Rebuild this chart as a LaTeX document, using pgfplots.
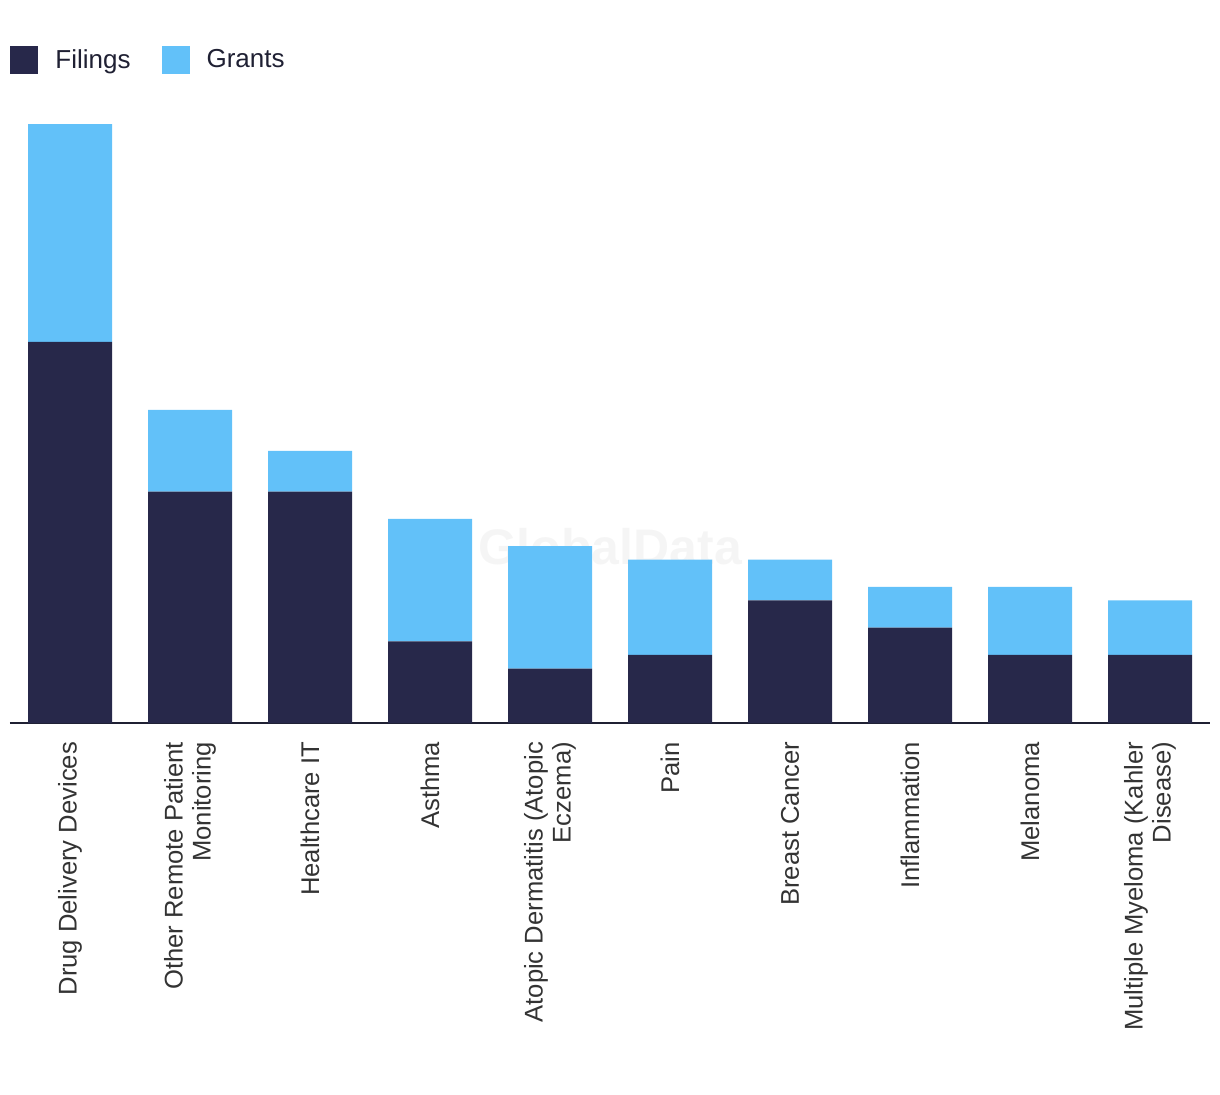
\documentclass[border=0pt]{standalone}
\usepackage{pgfplots}
\pgfplotsset{compat=1.18}
\usepackage{fontspec}
\setmainfont{Liberation Sans}
\definecolor{navy}{HTML}{27284A}
\definecolor{sky}{HTML}{62C1F9}
\definecolor{lbl}{HTML}{333333}
\definecolor{axl}{HTML}{1F2033}
\begin{document}
\begin{tikzpicture}
\path[use as bounding box] (-5pt,-185.5pt) rectangle (605pt,361.5pt);
\begin{axis}[
  scale only axis,
  width=600pt, height=313.1pt,
  ybar stacked, bar width=42pt,
  xmin=-0.5, xmax=9.5, ymin=0, ymax=46,
  enlargelimits=false,
  axis x line*=bottom, axis y line=none,
  x axis line style={-, line width=1pt, color=axl},
  xtick={0,...,9},
  xticklabels={Drug Delivery Devices,{Other Remote Patient\\Monitoring},Healthcare IT,Asthma,{Atopic Dermatitis (Atopic\\Eczema)},Pain,Breast Cancer,Inflammation,Melanoma,{Multiple Myeloma (Kahler\\Disease)}},
  xtick style={draw=none}, major tick length=0pt,
  xticklabel style={rotate=90, anchor=east, align=right, font=\fontsize{12.8}{14}\selectfont, text=lbl, xshift=-6pt},
  legend style={at={(0,1)}, anchor=north west, yshift=26pt, draw=none, fill=none, inner sep=0pt,
    font=\fontsize{13}{14}\selectfont, text=axl,
    /tikz/every even column/.append style={column sep=13.5pt}},
  legend columns=2,
  legend image code/.code={\fill[#1,draw=none] (0pt,-7pt) rectangle (14pt,7pt);\path[draw=none,fill=none] (0pt,0pt) rectangle (20.5pt,0pt);},
]
\addplot[fill=navy, draw=none] coordinates {(0,28) (1,17) (2,17) (3,6) (4,4) (5,5) (6,9) (7,7) (8,5) (9,5)};
\addplot[fill=sky, draw=none] coordinates {(0,16) (1,6) (2,3) (3,9) (4,9) (5,7) (6,3) (7,3) (8,5) (9,4)};
\legend{Filings,Grants}
\node[font=\bfseries\fontsize{25}{28}\selectfont, text=gray!25, opacity=0.3] at (rel axis cs:0.5,0.281) {GlobalData};
\end{axis}
\end{tikzpicture}
\end{document}
